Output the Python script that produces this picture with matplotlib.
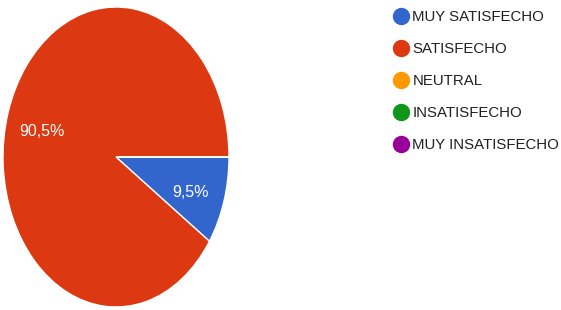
import matplotlib
matplotlib.use("Agg")
import matplotlib.pyplot as plt
from matplotlib.lines import Line2D

# data
categories = ["MUY SATISFECHO", "SATISFECHO", "NEUTRAL", "INSATISFECHO", "MUY INSATISFECHO"]
values = [9.5, 90.5, 0, 0, 0]
colors = ["#3366cc", "#dc3912", "#ff9900", "#109618", "#990099"]

plt.rcParams['font.family'] = ['Liberation Sans', 'DejaVu Sans']

W, H = 561, 310
fig = plt.figure(figsize=(W / 100, H / 100), dpi=100)
# the pie in the reference is squashed into an ellipse (wider than tall ratio ~ 226x300)
ax = fig.add_axes([3 / W, 3 / H, 226 / W, 300 / H])

def fmt(p):
    if p < 0.05:
        return ""
    return f"{p:.1f}%".replace(".", ",")

wedges, texts, autotexts = ax.pie(values, colors=colors, startangle=0, counterclock=False,
                                  autopct=fmt, pctdistance=0.69,
                                  wedgeprops=dict(edgecolor="white", linewidth=1),
                                  textprops=dict(color="white", fontsize=11.5))
for t in autotexts:  # labels sit a bit lower in the reference
    x, y = t.get_position()
    t.set_position((x, y - 0.035))
ax.set_aspect("auto")
ax.set_xlim(-1, 1)
ax.set_ylim(-1, 1)
ax.axis("off")

handles = [Line2D([], [], marker="o", linestyle="", markersize=11.5,
                  markerfacecolor=c, markeredgecolor=c) for c in colors]
fig.legend(handles, categories, loc="upper left", bbox_to_anchor=(392 / W, 1 - 10 / H),
           frameon=False, fontsize=10.8, labelspacing=1.2, handletextpad=0.15,
           handlelength=1.2, borderaxespad=0, borderpad=0, labelcolor="#222222")

fig.savefig("out.png", dpi=100)
